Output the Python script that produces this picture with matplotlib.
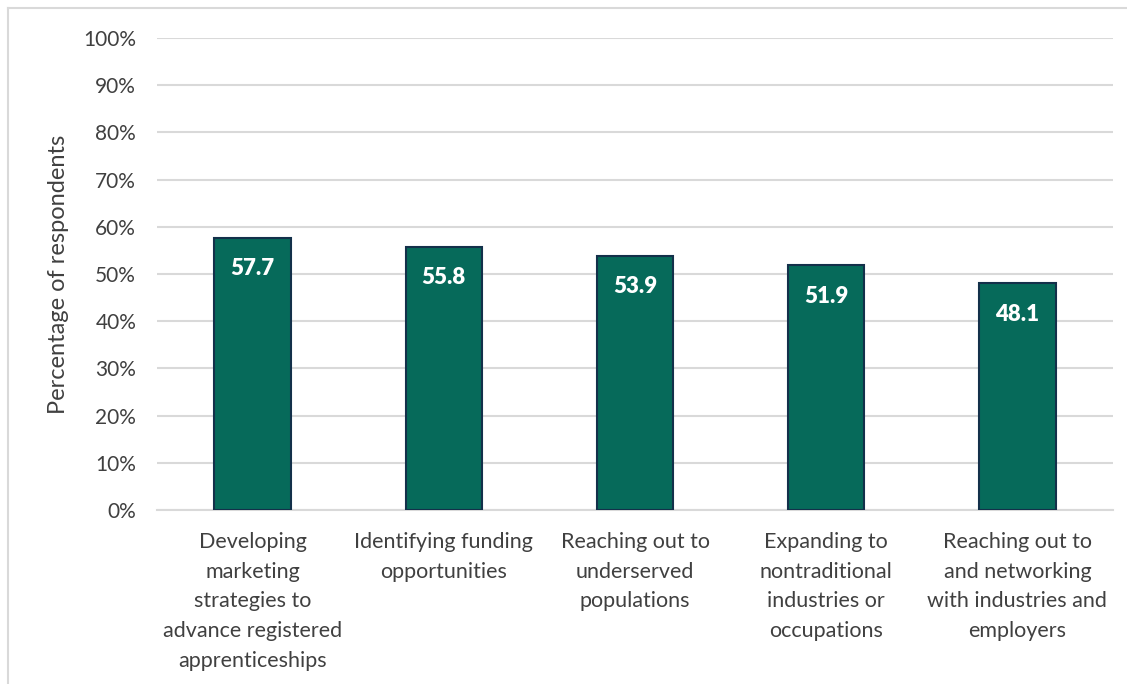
import matplotlib
matplotlib.use("Agg")
import matplotlib.pyplot as plt
from matplotlib.lines import Line2D
from matplotlib.ticker import PercentFormatter

# ---------------------------
# DATA
# ---------------------------
categories = [
    "Developing\nmarketing\nstrategies to\nadvance registered\napprenticeships",
    "Identifying funding\nopportunities",
    "Reaching out to\nunderserved\npopulations",
    "Expanding to\nnontraditional\nindustries or\noccupations",
    "Reaching out to\nand networking\nwith industries and\nemployers",
]
values = [57.7, 55.8, 53.9, 51.9, 48.1]
y_ticks = list(range(0, 101, 10))

plt.rcParams["font.family"] = ["Lato", "DejaVu Sans"]
text_color = "#404040"

# ---------------------------
# PLOT
# ---------------------------
fig = plt.figure(figsize=(11.27, 6.84), dpi=100)
ax = fig.add_axes([0.1393, 0.2544, 0.8483, 0.6900])

x = list(range(len(categories)))
bars = ax.bar(x, values, width=0.4, color="#066A5A", edgecolor="#13304A",
              linewidth=1.5, zorder=3)

for bar, v in zip(bars, values):
    ax.annotate(f"{v:.1f}", (bar.get_x() + bar.get_width() / 2, v),
                xytext=(0, -22.5), textcoords="offset points", ha="center",
                va="center", color="white", fontsize=16, fontweight="heavy",
                zorder=4)

ax.set_xlim(-0.5, len(categories) - 0.5)
ax.set_ylim(0, 100)
ax.set_yticks(y_ticks)
ax.yaxis.set_major_formatter(PercentFormatter(decimals=0))
ax.grid(axis="y", color="#D9D9D9", linewidth=1.5, zorder=0)
ax.set_axisbelow(True)

ax.set_xticks(x)
ax.set_xticklabels(categories, fontsize=15.5, color=text_color, linespacing=1.6)
ax.tick_params(axis="both", length=0, colors=text_color)
ax.tick_params(axis="x", pad=16)
ax.tick_params(axis="y", pad=15, labelsize=15)

for side in ["top", "right", "left"]:
    ax.spines[side].set_visible(False)
ax.spines["bottom"].set_color("#D9D9D9")
ax.spines["bottom"].set_linewidth(1.5)

ax.set_ylabel("Percentage of respondents", fontsize=17, color=text_color, labelpad=10)

# outer chart border
fig.add_artist(Line2D([8 / 1127, 1.0], [1 - 8 / 684, 1 - 8 / 684],
                      transform=fig.transFigure, color="#D9D9D9", linewidth=1.5))
fig.add_artist(Line2D([8 / 1127, 8 / 1127], [0, 1 - 8 / 684],
                      transform=fig.transFigure, color="#D9D9D9", linewidth=1.5))

fig.savefig("out.png", dpi=100)
